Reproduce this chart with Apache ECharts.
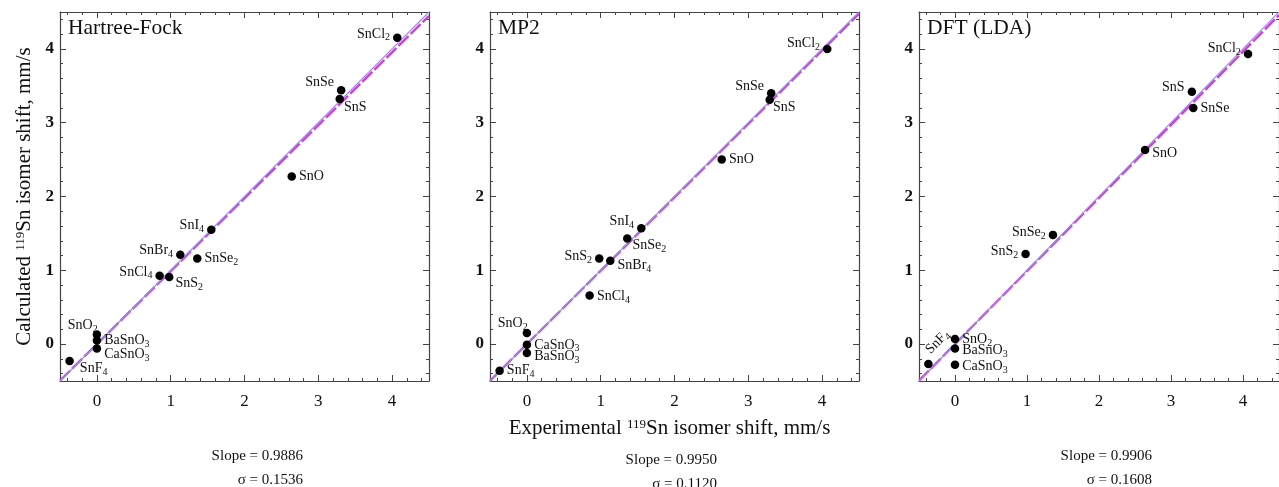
<!DOCTYPE html>
<html><head><meta charset="utf-8">
<script src="https://cdn.jsdelivr.net/npm/echarts@6/dist/echarts.min.js"></script>
<style>html,body{margin:0;padding:0;background:#fff}#c{width:1279px;height:487px}</style>
</head><body><div id="c"></div>
<script>
// ---- data ----
const compounds = ['SnCl2','SnSe','SnS','SnO','SnI4','SnBr4','SnSe2','SnCl4','SnS2','SnO2','BaSnO3','CaSnO3','SnF4'];
const experimental = [4.07, 3.31, 3.29, 2.64, 1.55, 1.13, 1.36, 0.85, 0.98, 0.00, 0.00, 0.00, -0.37];
const calcHF  = [4.15, 3.44, 3.32, 2.27, 1.55, 1.21, 1.16, 0.925, 0.91, 0.13, 0.05, -0.06, -0.23];
const calcMP2 = [4.00, 3.40, 3.31, 2.50, 1.57, 1.13, 1.43, 0.66, 1.16, 0.15, -0.12, -0.01, -0.36];
const calcDFT = [3.93, 3.20, 3.42, 2.63, null, null, 1.48, null, 1.22, 0.07, -0.06, -0.28, -0.27];
const methods = ['Hartree-Fock', 'MP2', 'DFT (LDA)'];
const slopes = [0.9886, 0.9950, 0.9906];
const sigmas = [0.1536, 0.1120, 0.1608];

// ---- label placement (style only) ----
const placement = [
  {SnCl2:['left',0,-4],SnSe:['left',0,-8],SnS:['right',-3,8],SnO:['right',0,0],SnI4:['left',0,-4],SnBr4:['left',0,-4],
   SnSe2:['right',0,0],SnCl4:['left',0,-4],SnS2:['right',-1,6],SnO2:['left',8,-9],BaSnO3:['right',0,0],CaSnO3:['right',0,6],SnF4:['right',3,7]},
  {SnCl2:['left',0,-6],SnSe:['left',0,-7],SnS:['right',-4,8],SnO:['right',0,0],SnI4:['left',0,-7],SnBr4:['right',0,5],
   SnSe2:['right',-2,7],SnCl4:['right',0,1],SnS2:['left',0,-2],SnO2:['left',8,-10],BaSnO3:['right',0,3],CaSnO3:['right',0,0],SnF4:['right',0,0]},
  {SnCl2:['left',0,-6],SnSe:['right',0,0],SnS:['left',0,-4],SnO:['right',0,3],SnSe2:['left',0,-3],SnS2:['left',0,-3],
   SnO2:['right',0,0],BaSnO3:['right',0,2],CaSnO3:['right',0,2],SnF4:['top',17,5,45]}
];

const calc = [calcHF, calcMP2, calcDFT];
const gridLefts = [60, 490, 919];
const FONT = '"Liberation Serif","DejaVu Serif",serif';
const AX = '#444';
const TXT = '#111';

function chemFmt(name){
  return name.split(/(\d)/).filter(t=>t!=='').map(t=>/\d/.test(t)?'{s|'+t+'}':'{n|'+t+'}').join('');
}

const grids = [], xAxes = [], yAxes = [], series = [], graphics = [];
for (let i = 0; i < 3; i++) {
  grids.push({left: gridLefts[i], top: 12, width: 369, height: 369, show: false});
  const common = {
    gridIndex: i, type: 'value', min: -0.5, max: 4.5, splitNumber: 5,
    axisLine: {show: true, onZero: false, lineStyle: {color: AX, width: 1.2}},
    axisTick: {show: true, inside: true, length: 6, lineStyle: {color: AX, width: 1}},
    minorTick: {show: true, splitNumber: 5, length: 3, lineStyle: {color: AX, width: 1}},
    splitLine: {show: false}, minorSplitLine: {show: false}
  };
  xAxes.push(Object.assign({}, common, {
    position: 'bottom',
    axisLabel: {show: true, showMinLabel: false, showMaxLabel: false, fontFamily: FONT, fontSize: 17, color: TXT, margin: 12},
    name: i === 1 ? 'Experimental {p|119}Sn isomer shift, mm/s' : '',
    nameLocation: 'middle', nameGap: 37,
    nameTextStyle: {fontFamily: FONT, fontSize: 21, color: TXT, padding: [0, 10, 0, 0], rich: {p: {fontSize: 13, verticalAlign: 'top', lineHeight: 13, fontFamily: FONT, color: TXT}}}
  }));
  xAxes.push(Object.assign({}, common, {position: 'top', axisLabel: {show: false}}));
  yAxes.push(Object.assign({}, common, {
    position: 'left',
    axisLabel: {show: true, showMinLabel: false, showMaxLabel: false, fontFamily: FONT, fontSize: 17, fontWeight: 'bold', color: TXT, margin: 6},
    name: i === 0 ? 'Calculated {p|119}Sn isomer shift, mm/s' : '',
    nameLocation: 'middle', nameGap: 25, nameRotate: 90,
    nameTextStyle: {fontFamily: FONT, fontSize: 21, color: TXT, rich: {p: {fontSize: 13, verticalAlign: 'top', lineHeight: 13, fontFamily: FONT, color: TXT}}}
  }));
  yAxes.push(Object.assign({}, common, {position: 'right', axisLabel: {show: false}}));

  const s = slopes[i];
  series.push({
    type: 'line', xAxisIndex: 2*i, yAxisIndex: 2*i, symbol: 'none', silent: true, z: 2,
    lineStyle: {color: '#d23cdc', width: 2.4, type: [14, 3]},
    data: [[-0.5, -0.5*s], [4.5, 4.5*s]]
  });
  series.push({
    type: 'line', xAxisIndex: 2*i, yAxisIndex: 2*i, symbol: 'none', silent: true, z: 3,
    lineStyle: {color: '#9b8ee0', width: 1.1},
    data: [[-0.5, -0.5], [4.5, 4.5]]
  });
  const pts = [];
  compounds.forEach((c, k) => {
    if (calc[i][k] === null) return;
    const pl = placement[i][c];
    const lab = {show: true, position: pl[0], offset: [pl[1], pl[2]], distance: 3,
                 formatter: chemFmt(c), color: TXT,
                 rich: {n: {fontFamily: FONT, fontSize: 14, color: TXT, lineHeight: 18, verticalAlign: 'middle'},
                        s: {fontFamily: FONT, fontSize: 10, color: TXT, lineHeight: 10, verticalAlign: 'bottom'}}};
    if (pl[3]) lab.rotate = pl[3];
    pts.push({name: c, value: [experimental[k], calc[i][k]], label: lab});
  });
  series.push({
    type: 'scatter', xAxisIndex: 2*i, yAxisIndex: 2*i, symbolSize: 8.5, z: 5,
    itemStyle: {color: '#000', opacity: 1}, data: pts
  });

  graphics.push({type: 'text', left: gridLefts[i] + 8, top: 17, z: 10,
    style: {text: methods[i], font: '21.5px ' + FONT, fill: TXT}});
}

const statRight = [303, 717, 1152];
const statY = [[456, 480], [460, 484], [456, 480]];
for (let i = 0; i < 3; i++) {
  graphics.push({type: 'text', x: statRight[i], y: statY[i][0], z: 10,
    style: {text: 'Slope = ' + slopes[i].toFixed(4), font: '15px ' + FONT, fill: TXT, align: 'right', verticalAlign: 'middle'}});
  graphics.push({type: 'text', x: statRight[i], y: statY[i][1], z: 10,
    style: {text: '\u03c3 = ' + sigmas[i].toFixed(4), font: '15px ' + FONT, fill: TXT, align: 'right', verticalAlign: 'middle'}});
}

const chart = echarts.init(document.getElementById('c'), null, {renderer: 'canvas'});
chart.setOption({
  backgroundColor: '#fff', animation: false,
  grid: grids, xAxis: xAxes, yAxis: yAxes, series: series, graphic: graphics
});
</script></body></html>
